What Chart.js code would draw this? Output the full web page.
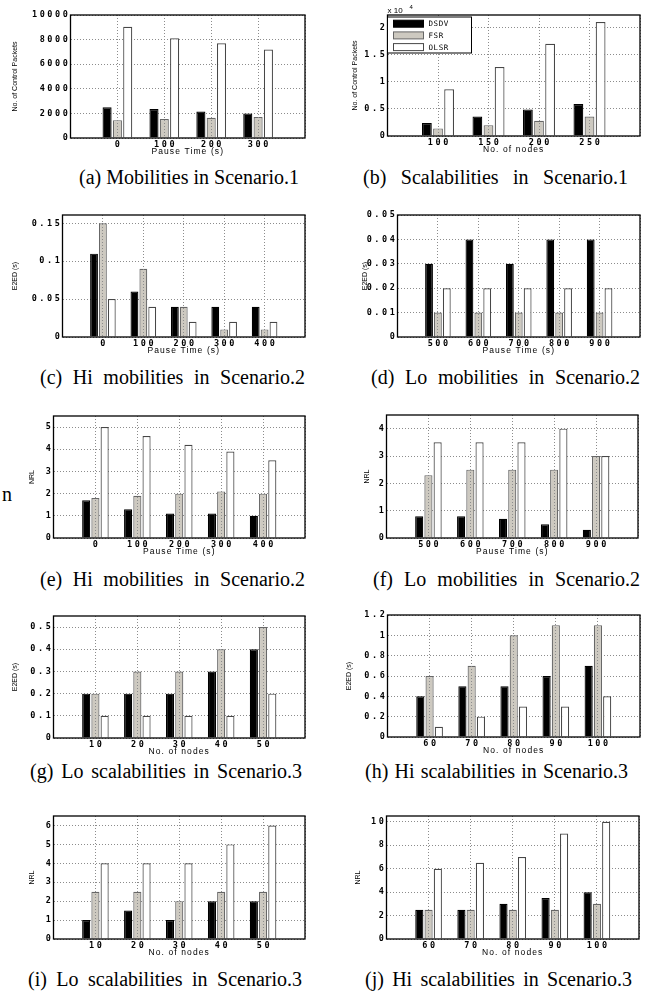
<!DOCTYPE html>
<html>
<head>
<meta charset="utf-8">
<script src="https://cdn.jsdelivr.net/npm/chart.js@4.4.1/dist/chart.umd.min.js"></script>
<style>
  body { margin: 0; background: #fff; width: 657px; height: 993px; position: relative; overflow: hidden; }
  canvas { position: absolute; }
  .cap { position: absolute; font-family: "Liberation Serif", serif; font-size: 20px; line-height: 20px;
         white-space: nowrap; text-align: justify; text-align-last: justify; color: #000; }
</style>
</head>
<body>
<script>
const series = ['DSDV', 'FSR', 'OLSR'];

// (a) Mobilities in Scenario.1
const pauseA = ['0', '100', '200', '300'];
const dsdvA = [2500, 2350, 2150, 2000];
const fsrA  = [1450, 1550, 1650, 1700];
const olsrA = [9050, 8100, 7700, 7200];

// (b) Scalabilities in Scenario.1 (x 10^4 packets)
const nodesB = ['100', '150', '200', '250'];
const dsdvB = [0.24, 0.36, 0.49, 0.59];
const fsrB  = [0.14, 0.20, 0.28, 0.36];
const olsrB = [0.86, 1.27, 1.70, 2.10];

// (c) Hi mobilities in Scenario.2
const pauseC = ['0', '100', '200', '300', '400'];
const dsdvC = [0.11, 0.06, 0.04, 0.04, 0.04];
const fsrC  = [0.15, 0.09, 0.04, 0.01, 0.01];
const olsrC = [0.05, 0.04, 0.02, 0.02, 0.02];

// (d) Lo mobilities in Scenario.2
const pauseD = ['500', '600', '700', '800', '900'];
const dsdvD = [0.03, 0.04, 0.03, 0.04, 0.04];
const fsrD  = [0.01, 0.01, 0.01, 0.01, 0.01];
const olsrD = [0.02, 0.02, 0.02, 0.02, 0.02];

// (e) Hi mobilities in Scenario.2
const pauseE = ['0', '100', '200', '300', '400'];
const dsdvE = [1.7, 1.3, 1.1, 1.1, 1.0];
const fsrE  = [1.8, 1.9, 2.0, 2.1, 2.0];
const olsrE = [5.0, 4.6, 4.2, 3.9, 3.5];

// (f) Lo mobilities in Scenario.2
const pauseF = ['500', '600', '700', '800', '900'];
const dsdvF = [0.8, 0.8, 0.7, 0.5, 0.3];
const fsrF  = [2.3, 2.5, 2.5, 2.5, 3.0];
const olsrF = [3.5, 3.5, 3.5, 4.0, 3.0];

// (g) Lo scalabilities in Scenario.3
const nodesG = ['10', '20', '30', '40', '50'];
const dsdvG = [0.2, 0.2, 0.2, 0.3, 0.4];
const fsrG  = [0.2, 0.3, 0.3, 0.4, 0.5];
const olsrG = [0.1, 0.1, 0.1, 0.1, 0.2];

// (h) Hi scalabilities in Scenario.3
const nodesH = ['60', '70', '80', '90', '100'];
const dsdvH = [0.4, 0.5, 0.5, 0.6, 0.7];
const fsrH  = [0.6, 0.7, 1.0, 1.1, 1.1];
const olsrH = [0.1, 0.2, 0.3, 0.3, 0.4];

// (i) Lo scalabilities in Scenario.3 (NRL)
const nodesI = ['10', '20', '30', '40', '50'];
const dsdvI = [1, 1.5, 1, 2, 2];
const fsrI  = [2.5, 2.5, 2, 2.5, 2.5];
const olsrI = [4, 4, 4, 5, 6];

// (j) Hi scalabilities in Scenario.3 (NRL)
const nodesJ = ['60', '70', '80', '90', '100'];
const dsdvJ = [2.5, 2.5, 3, 3.5, 4];
const fsrJ  = [2.5, 2.5, 2.5, 2.5, 3];
const olsrJ = [6, 6.5, 7, 9, 10];

const captions = [
  '(a) Mobilities in Scenario.1', '(b) Scalabilities in Scenario.1',
  '(c) Hi mobilities in Scenario.2', '(d) Lo mobilities in Scenario.2',
  '(e) Hi mobilities in Scenario.2', '(f) Lo mobilities in Scenario.2',
  '(g) Lo scalabilities in Scenario.3', '(h) Hi scalabilities in Scenario.3',
  '(i) Lo scalabilities in Scenario.3', '(j) Hi scalabilities in Scenario.3'
];

const tickFont = { family: 'DejaVu Sans Mono', size: 8.5, weight: 'bold' };
const fmt = v => String(Math.round(v * 1000) / 1000);

// box around plot, stretched tick text, legend and exponent
const boxPlugin = {
  id: 'box',
  beforeDraw(chart) {
    Object.values(chart.scales).forEach(s => {
      if (s.__ls) return;
      const lab = s.drawLabels, tit = s.drawTitle;
      s.drawLabels = function (a) {
        this.ctx.save(); this.ctx.letterSpacing = '2.6px'; lab.call(this, a); this.ctx.restore();
      };
      s.drawTitle = function () {
        this.ctx.save(); this.ctx.letterSpacing = this.axis === 'x' ? '1.1px' : '0px'; tit.call(this); this.ctx.restore();
      };
      s.__ls = true;
    });
  },
  afterDraw(chart, args, opts) {
    const { ctx, chartArea: a } = chart;
    ctx.save();
    ctx.strokeStyle = '#000';
    ctx.lineWidth = 1.3;
    ctx.strokeRect(a.left, a.top, a.right - a.left, a.bottom - a.top);
    if (opts.exp) {
      ctx.fillStyle = '#000';
      ctx.font = '8px "Liberation Sans"';
      ctx.textBaseline = 'alphabetic';
      ctx.fillText('x 10', a.left, a.top - 2);
      ctx.font = '6px "Liberation Sans"';
      ctx.fillText('4', a.left + 22, a.top - 6);
    }
    if (opts.legend) {
      const x0 = a.left, y0 = a.top + 2;
      ctx.fillStyle = '#fff';
      ctx.fillRect(x0, y0, 84, 36);
      ctx.lineWidth = 1;
      ctx.strokeStyle = '#000';
      ctx.strokeRect(x0, y0, 84, 36);
      chart.data.datasets.forEach((ds, i) => {
        const cy = y0 + 6.7 + i * 11.7;
        ctx.fillStyle = ds.backgroundColor;
        ctx.fillRect(x0 + 6, cy - 3.5, 30, 7);
        ctx.strokeStyle = ds.borderColor;
        ctx.strokeRect(x0 + 6, cy - 3.5, 30, 7);
        ctx.fillStyle = '#000';
        ctx.font = '7.5px "DejaVu Sans Mono"';
        ctx.letterSpacing = '0.6px';
        ctx.textBaseline = 'middle';
        ctx.fillText(ds.label, x0 + 41, cy + 0.5);
      });
    }
    ctx.restore();
  }
};

function panel(p) {
  const c = document.createElement('canvas');
  const left = p.tx - 3.5, top = p.T - 12;
  const w = p.R + 6 - left, h = p.B + 20 - top;
  c.width = w; c.height = h;
  c.style.left = left + 'px'; c.style.top = top + 'px';
  document.body.appendChild(c);
  const yW = p.L - left;
  const pad = v => [null, ...v, null];
  new Chart(c, {
    type: 'bar',
    data: {
      labels: ['', ...p.cats, ''],
      datasets: [
        { label: series[0], data: pad(p.v[0]), backgroundColor: '#000000', borderColor: '#000000' },
        { label: series[1], data: pad(p.v[1]), backgroundColor: '#cdc9c0', borderColor: '#676767' },
        { label: series[2], data: pad(p.v[2]), backgroundColor: '#ffffff', borderColor: '#474747' }
      ]
    },
    options: {
      responsive: false,
      animation: false,
      layout: { padding: { top: 12, right: 6, left: 0, bottom: 2 } },
      datasets: { bar: { borderWidth: 1.2, categoryPercentage: 0.66, barPercentage: 0.88 } },
      plugins: {
        legend: { display: false },
        tooltip: { enabled: false },
        box: { legend: !!p.legend, exp: !!p.exp }
      },
      scales: {
        x: {
          offset: false,
          grid: { offset: false, color: '#8c8c8c', lineWidth: 1, drawTicks: false, z: 1 },
          border: { display: false, dash: [1, 2] },
          ticks: { autoSkip: false, maxRotation: 0, padding: 2, labelOffset: 1.3, color: '#000', font: tickFont, z: 1 },
          title: { display: true, text: p.xTitle, padding: 0, color: '#000',
                   font: { family: 'Liberation Sans', size: 8.5, lineHeight: 1 } },
          afterFit: s => { s.height = 18; }
        },
        y: {
          min: 0,
          max: p.max,
          grid: { color: '#8c8c8c', lineWidth: 1, drawTicks: false },
          border: { display: false, dash: [1, 2] },
          ticks: { stepSize: p.step, includeBounds: false, padding: 0, color: '#000', font: tickFont,
                   callback: fmt, z: 1 },
          title: { display: true, text: p.yTitle, padding: 0, color: '#000',
                   font: { family: 'Liberation Sans', size: 7, lineHeight: 1 } },
          afterFit: s => { s.width = yW; }
        }
      }
    },
    plugins: [boxPlugin]
  });
}

const pt = 'Pause Time (s)', nn = 'No. of nodes';
panel({ L: 70, T: 15, R: 305, B: 138, tx: 15, max: 10000, step: 2000, cats: pauseA, v: [dsdvA, fsrA, olsrA], xTitle: pt, yTitle: 'No. of Control Packets' });
panel({ L: 387, T: 15, R: 640, B: 136, tx: 355, max: 2.23, step: 0.5, cats: nodesB, v: [dsdvB, fsrB, olsrB], xTitle: nn, yTitle: 'No. of Control Packets', legend: true, exp: true });
panel({ L: 62, T: 215, R: 305, B: 337, tx: 15, max: 0.161, step: 0.05, cats: pauseC, v: [dsdvC, fsrC, olsrC], xTitle: pt, yTitle: 'E2ED (s)' });
panel({ L: 397, T: 215, R: 640, B: 337, tx: 365, max: 0.05, step: 0.01, cats: pauseD, v: [dsdvD, fsrD, olsrD], xTitle: pt, yTitle: 'E2ED (s)' });
panel({ L: 53, T: 416, R: 305, B: 538, tx: 32, max: 5.5, step: 1, cats: pauseE, v: [dsdvE, fsrE, olsrE], xTitle: pt, yTitle: 'NRL' });
panel({ L: 386, T: 415, R: 638, B: 538, tx: 367, max: 4.5, step: 1, cats: pauseF, v: [dsdvF, fsrF, olsrF], xTitle: pt, yTitle: 'NRL' });
panel({ L: 53, T: 616, R: 305, B: 738, tx: 15, max: 0.55, step: 0.1, cats: nodesG, v: [dsdvG, fsrG, olsrG], xTitle: nn, yTitle: 'E2ED (s)' });
panel({ L: 387, T: 615, R: 640, B: 737, tx: 349, max: 1.2, step: 0.2, cats: nodesH, v: [dsdvH, fsrH, olsrH], xTitle: nn, yTitle: 'E2ED (s)' });
panel({ L: 53, T: 816, R: 305, B: 939, tx: 32, max: 6.5, step: 1, cats: nodesI, v: [dsdvI, fsrI, olsrI], xTitle: nn, yTitle: 'NRL' });
panel({ L: 386, T: 816, R: 639, B: 939, tx: 358, max: 10.5, step: 2, cats: nodesJ, v: [dsdvJ, fsrJ, olsrJ], xTitle: nn, yTitle: 'NRL' });

// captions: [left, baseline, width]
const capPos = [[79, 184, 220], [363, 184, 265], [40, 384, 265], [371, 384, 269], [40, 586, 265],
                [373, 586, 267], [30, 778, 272], [365, 778, 263], [28, 986, 274], [365, 986, 267]];
captions.forEach((t, i) => {
  const d = document.createElement('div');
  d.className = 'cap';
  d.textContent = t;
  d.style.left = capPos[i][0] + 'px';
  d.style.top = (capPos[i][1] - 17) + 'px';
  d.style.width = capPos[i][2] + 'px';
  document.body.appendChild(d);
});
const n = document.createElement('div');
n.className = 'cap';
n.style.textAlign = 'left';
n.style.textAlignLast = 'left';
n.style.left = '2px';
n.style.top = '484px';
n.textContent = 'n';
document.body.appendChild(n);
</script>
</body>
</html>
